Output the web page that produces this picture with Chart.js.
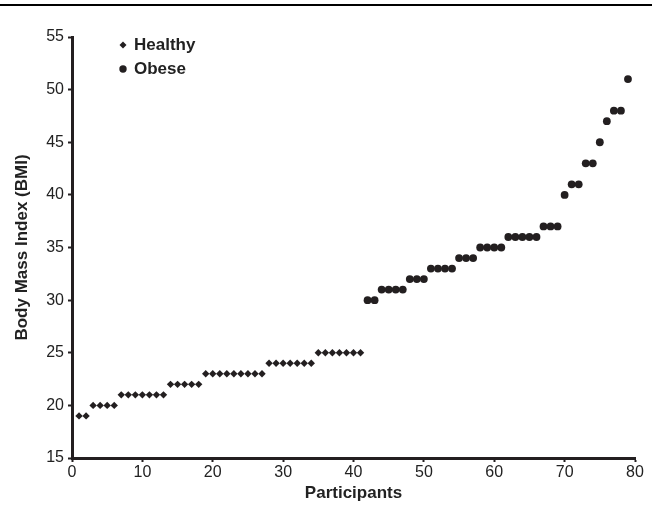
<!DOCTYPE html>
<html>
<head>
<meta charset="utf-8">
<script src="https://cdn.jsdelivr.net/npm/chart.js@4.4.1/dist/chart.umd.min.js"></script>
<style>
  html, body { margin: 0; padding: 0; background: #fff; }
  #wrap { width: 652px; height: 508px; }
</style>
</head>
<body>
<div id="wrap"><canvas id="myChart" width="652" height="508"></canvas></div>
<script>
// participants (x) and body mass index (y) for each group
const healthyParticipants = [1, 2, 3, 4, 5, 6, 7, 8, 9, 10, 11, 12, 13, 14, 15, 16, 17, 18, 19, 20,
  21, 22, 23, 24, 25, 26, 27, 28, 29, 30, 31, 32, 33, 34, 35, 36, 37, 38, 39, 40, 41];
const healthyBMI = [19, 19, 20, 20, 20, 20, 21, 21, 21, 21, 21, 21, 21, 22, 22, 22, 22, 22, 23, 23,
  23, 23, 23, 23, 23, 23, 23, 24, 24, 24, 24, 24, 24, 24, 25, 25, 25, 25, 25, 25, 25];

const obeseParticipants = [42, 43, 44, 45, 46, 47, 48, 49, 50, 51, 52, 53, 54, 55, 56, 57, 58, 59, 60,
  61, 62, 63, 64, 65, 66, 67, 68, 69, 70, 71, 72, 73, 74, 75, 76, 77, 78, 79];
const obeseBMI = [30, 30, 31, 31, 31, 31, 32, 32, 32, 33, 33, 33, 33, 34, 34, 34, 35, 35, 35,
  35, 36, 36, 36, 36, 36, 37, 37, 37, 40, 41, 41, 43, 43, 45, 47, 48, 48, 51];

const seriesNames = ["Healthy", "Obese"];
const xTitle = "Participants";
const yTitle = "Body Mass Index (BMI)";

const ink = "#231f20";
const font = "'Liberation Sans', Arial, sans-serif";

function toPoints(xs, ys) {
  return xs.map((x, i) => ({ x: x, y: ys[i] }));
}

// top rule + legend drawn inside the plot, like the original figure
const extras = {
  id: "extras",
  afterDraw(chart) {
    const c = chart.ctx;
    c.save();
    c.fillStyle = "#000";
    c.fillRect(0, 4, chart.width, 2);

    c.fillStyle = ink;
    // diamond
    c.beginPath();
    c.moveTo(123, 41.5); c.lineTo(126.5, 45); c.lineTo(123, 48.5); c.lineTo(119.5, 45);
    c.closePath(); c.fill();
    // circle
    c.beginPath();
    c.arc(123, 69, 3.7, 0, Math.PI * 2);
    c.fill();

    c.font = "bold 17px " + font;
    c.textBaseline = "middle";
    c.textAlign = "left";
    c.fillStyle = "#222";
    c.fillText(seriesNames[0], 134, 45);
    c.fillText(seriesNames[1], 134, 69);
    c.restore();
  }
};

const ctx = document.getElementById("myChart");
const myChart = new Chart(ctx, {
  type: "scatter",
  data: {
    datasets: [
      {
        label: seriesNames[0],
        data: toPoints(healthyParticipants, healthyBMI),
        pointStyle: "rectRot",
        pointRadius: 3.7,
        backgroundColor: ink,
        borderColor: ink,
        borderWidth: 0
      },
      {
        label: seriesNames[1],
        data: toPoints(obeseParticipants, obeseBMI),
        pointStyle: "circle",
        pointRadius: 3.9,
        backgroundColor: ink,
        borderColor: ink,
        borderWidth: 0
      }
    ]
  },
  options: {
    responsive: false,
    animation: false,
    layout: { padding: { top: 37, right: 17, left: 0, bottom: 0 } },
    plugins: {
      legend: { display: false },
      tooltip: { enabled: false }
    },
    scales: {
      x: {
        type: "linear",
        min: 0,
        max: 80,
        ticks: { stepSize: 10, color: "#222", font: { family: font, size: 16 }, padding: 1, maxRotation: 0 },
        grid: { drawOnChartArea: false, drawTicks: true, tickLength: 4, tickWidth: 2, color: ink },
        border: { color: ink, width: 3 },
        title: { display: true, text: xTitle, color: "#222", font: { family: font, size: 17, weight: "bold" }, padding: { top: 1 } },
        afterFit(s) { s.height = 50; }
      },
      y: {
        min: 15,
        max: 55,
        ticks: { stepSize: 5, color: "#222", font: { family: font, size: 16 }, padding: 4 },
        grid: { drawOnChartArea: false, drawTicks: true, tickLength: 4, tickWidth: 2, color: ink },
        border: { color: ink, width: 3 },
        title: { display: true, text: yTitle, color: "#222", font: { family: font, size: 17, weight: "bold" }, padding: { top: 12, bottom: 0 } },
        afterFit(s) { s.width = 72; }
      }
    }
  },
  plugins: [extras]
});
</script>
</body>
</html>
